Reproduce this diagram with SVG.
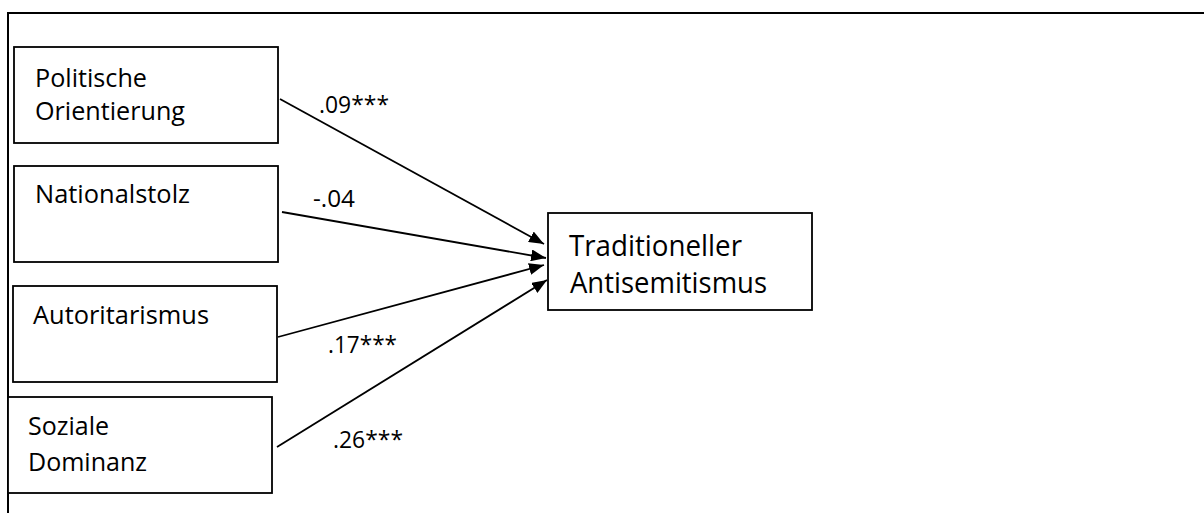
<svg xmlns="http://www.w3.org/2000/svg" width="1204" height="513" viewBox="0 0 1204 513">
  <style>
    .box { fill: #ffffff; stroke: #000000; stroke-width: 1.8; }
    .frame { fill: none; stroke: #000000; stroke-width: 2; }
    .lbl { font-family: "Open Sans", "Liberation Sans", sans-serif; font-size: 25px; fill: #000000; }
    .big { font-family: "Open Sans", "Liberation Sans", sans-serif; font-size: 28.5px; fill: #000000; }
    .coef { font-family: "Open Sans", "Liberation Sans", sans-serif; font-size: 23.5px; fill: #000000; }
    .edge { fill: none; stroke: #000000; stroke-width: 1.8; }
  </style>
  <defs>
    <marker id="arrow" viewBox="0 0 15 12" refX="15" refY="6" markerWidth="15" markerHeight="12" markerUnits="userSpaceOnUse" orient="auto">
      <path d="M0,0 L15,6 L0,12 Z" fill="#000000"/>
    </marker>
  </defs>

  <rect width="1204" height="513" fill="#ffffff"/>

  <!-- surrounding frame: top and left edges only -->
  <path class="frame" d="M8,513 L8,13 L1204,13"/>

  <g id="connectors">
    <line class="edge" x1="280" y1="99" x2="544" y2="244" marker-end="url(#arrow)"/>
    <line class="edge" x1="282" y1="212" x2="546" y2="258" marker-end="url(#arrow)"/>
    <line class="edge" x1="278" y1="337" x2="544" y2="265" marker-end="url(#arrow)"/>
    <line class="edge" x1="277" y1="447" x2="547" y2="280" marker-end="url(#arrow)"/>
    <text class="coef" x="319" y="113" textLength="70" lengthAdjust="spacingAndGlyphs">.09***</text>
    <text class="coef" x="313" y="207" textLength="42" lengthAdjust="spacingAndGlyphs">-.04</text>
    <text class="coef" x="328" y="353" textLength="69" lengthAdjust="spacingAndGlyphs">.17***</text>
    <text class="coef" x="333" y="448" textLength="70" lengthAdjust="spacingAndGlyphs">.26***</text>
  </g>

  <g id="node-politische-orientierung">
    <rect class="box" x="14" y="47" width="264" height="96"/>
    <text class="lbl" x="35" y="86.5" textLength="112" lengthAdjust="spacingAndGlyphs">Politische</text>
    <text class="lbl" x="35" y="119.5" textLength="150" lengthAdjust="spacingAndGlyphs">Orientierung</text>
  </g>

  <g id="node-nationalstolz">
    <rect class="box" x="14" y="166" width="264" height="96"/>
    <text class="lbl" x="35" y="203" textLength="155" lengthAdjust="spacingAndGlyphs">Nationalstolz</text>
  </g>

  <g id="node-autoritarismus">
    <rect class="box" x="13" y="286" width="264" height="96"/>
    <text class="lbl" x="33" y="324" textLength="176" lengthAdjust="spacingAndGlyphs">Autoritarismus</text>
  </g>

  <g id="node-soziale-dominanz">
    <rect class="box" x="8" y="397" width="264" height="96"/>
    <text class="lbl" x="28" y="435" textLength="81" lengthAdjust="spacingAndGlyphs">Soziale</text>
    <text class="lbl" x="28" y="471" textLength="119" lengthAdjust="spacingAndGlyphs">Dominanz</text>
  </g>

  <g id="node-traditioneller-antisemitismus">
    <rect class="box" x="548" y="213" width="264" height="97"/>
    <text class="big" x="569" y="256" textLength="173" lengthAdjust="spacingAndGlyphs">Traditioneller</text>
    <text class="big" x="570" y="293" textLength="197" lengthAdjust="spacingAndGlyphs">Antisemitismus</text>
  </g>
</svg>
